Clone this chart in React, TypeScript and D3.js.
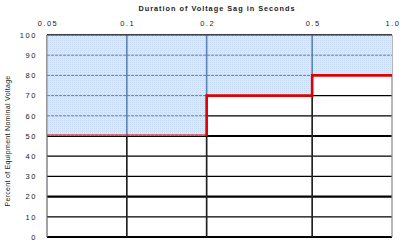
import React from "react";
import * as d3 from "d3";

const xTicks = [0.05, 0.1, 0.2, 0.5, 1.0];
const xTickLabels = ["0.05", "0.1", "0.2", "0.5", "1.0"];
const yTicks = [0, 10, 20, 30, 40, 50, 60, 70, 80, 90, 100];
const thickY = [0, 20, 50];
const stepDurations = [0.05, 0.2, 0.5, 1.0];
const stepVoltages = [50, 70, 80, 80];
const title = "Duration of Voltage Sag in Seconds";
const yTitle = "Percent of Equipment Nominal Voltage";

const W = 400, H = 241;
const L = 47, R = 392, T = 35, B = 237;

export default function App() {
  const x = d3.scaleLog().domain([0.05, 1]).range([L, R]);
  const y = d3.scaleLinear().domain([0, 100]).range([B, T]);
  const pts = stepDurations.map((d, i) => ({ d, v: stepVoltages[i] }));

  const area = d3.area<{ d: number; v: number }>()
    .curve(d3.curveStepAfter)
    .x((p) => x(p.d))
    .y0(y(100))
    .y1((p) => y(p.v));
  const line = d3.line<{ d: number; v: number }>()
    .curve(d3.curveStepAfter)
    .x((p) => x(p.d))
    .y((p) => y(p.v));

  const thickPts = [{ d: pts[1].d, v: pts[0].v }, ...pts.slice(1)];
  const thinPts = [pts[0], { d: pts[1].d, v: pts[0].v }];
  const areaPath = area(pts) || "";
  const font = "Arial, 'Liberation Sans', sans-serif";

  return (
    <svg width={W} height={H} style={{ position: "absolute", left: 0, top: 0, background: "#fff" }}>
      <defs>
        <clipPath id="shade">
          <path d={areaPath} />
        </clipPath>
        <pattern id="hatch" width="2" height="2" patternUnits="userSpaceOnUse">
          <rect width="2" height="2" fill="#dae8fb" />
          <rect width="1" height="1" fill="#c9dcf7" />
        </pattern>
      </defs>
      {/* black grid */}
      {yTicks.map((t) => (
        <line key={"h" + t} x1={L} x2={R} y1={y(t)} y2={y(t)} stroke="#000"
          strokeWidth={thickY.includes(t) ? 2.2 : 1.3} />
      ))}
      {xTicks.slice(1, -1).map((t) => (
        <line key={"v" + t} x1={x(t)} x2={x(t)} y1={T} y2={B} stroke="#222" strokeWidth={1.7} />
      ))}
      <line x1={L} x2={L} y1={T} y2={B} stroke="#666" strokeWidth={1.2} />
      <line x1={R} x2={R} y1={T} y2={B} stroke="#888" strokeWidth={1.2} />
      {/* shaded area */}
      <path d={areaPath} fill="url(#hatch)" />
      <g clipPath="url(#shade)">
        {yTicks.map((t) => (
          <line key={"bh" + t} x1={L} x2={R} y1={y(t)} y2={y(t)} stroke="#5c82b4"
            strokeWidth={1} strokeDasharray="3,1" />
        ))}
        {xTicks.slice(1, -1).map((t) => (
          <line key={"bv" + t} x1={x(t)} x2={x(t)} y1={T} y2={B} stroke="#5c82b4" strokeWidth={1.6} />
        ))}
      </g>
      <line x1={L} x2={R} y1={T} y2={T} stroke="#444" strokeWidth={1} />
      <line x1={L} x2={L} y1={T} y2={y(50)} stroke="#888" strokeWidth={1} />
      {/* red limit line */}
      <path d={line(thinPts) || ""} fill="none" stroke="#e00000" strokeWidth={1} transform="translate(0,-1)" />
      <path d={line(thickPts) || ""} fill="none" stroke="#e00000" strokeWidth={2.6} />
      {/* labels */}
      <text x={217} y={11} textAnchor="middle" fontFamily={font} fontSize={7.3} fontWeight="bold"
        letterSpacing={1} fill="#222">{title}</text>
      {xTicks.map((t, i) => (
        <text key={"xl" + t} x={x(t) + 1} y={26} textAnchor="middle" fontFamily={font} fontSize={7.5}
          letterSpacing={1.5} fill="#222">{xTickLabels[i]}</text>
      ))}
      {yTicks.map((t) => (
        <text key={"yl" + t} x={37} y={y(t) + 2.7} textAnchor="end" fontFamily={font} fontSize={7.5}
          letterSpacing={1.6} fill="#222">{t}</text>
      ))}
      <text transform={`translate(10,${(75 + 207) / 2}) rotate(-90)`} textAnchor="middle"
        fontFamily={font} fontSize={7} letterSpacing={0.3} fill="#222">{yTitle}</text>
    </svg>
  );
}
